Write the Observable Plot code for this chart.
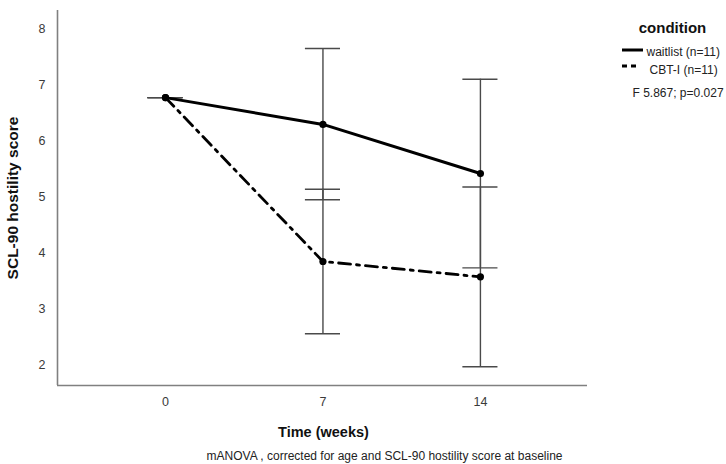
<!DOCTYPE html>
<html>
<head>
<meta charset="utf-8">
<script src="https://cdn.jsdelivr.net/npm/d3@7"></script>
<script src="https://cdn.jsdelivr.net/npm/@observablehq/plot@0.6"></script>
<style>
  html, body { margin: 0; padding: 0; background: #fff; }
  #chart svg { display: block; }
</style>
</head>
<body>
<div id="chart"></div>
<script>
// ---- data ----
const times = [0, 7, 14];
const conditions = ["waitlist (n=11)", "CBT-I (n=11)"];
const waitlistMean = [6.78, 6.30, 5.42];
const waitlistLow  = [6.78, 4.95, 3.73];
const waitlistHigh = [6.78, 7.66, 7.11];
const cbtMean = [6.78, 3.845, 3.57];
const cbtLow  = [6.78, 2.55, 1.96];
const cbtHigh = [6.78, 5.14, 5.18];
const yTicks = [2, 3, 4, 5, 6, 7, 8];
const xTicks = [0, 7, 14];
const xLabel = "Time (weeks)";
const yLabel = "SCL-90 hostility score";
const legendTitle = "condition";
const statText = "F 5.867; p=0.027";
const caption = "mANOVA , corrected for age and SCL-90 hostility score at baseline";

// ---- table ----
const rows = [];
times.forEach((t, i) => {
  rows.push({t, cond: conditions[0], m: waitlistMean[i], lo: waitlistLow[i], hi: waitlistHigh[i]});
});
times.forEach((t, i) => {
  rows.push({t, cond: conditions[1], m: cbtMean[i], lo: cbtLow[i], hi: cbtHigh[i]});
});
const wl = rows.filter(d => d.cond === conditions[0]);
const cb = rows.filter(d => d.cond === conditions[1]);

const xDomain = [-4.8, 18.76];
const yDomain = [1.624, 8.34];
const capHalf = 0.78;
const font = "'Liberation Sans', Arial, Helvetica, sans-serif";
const errColor = "#4a4a4a";
const fmt = d => String(d);

const chart = Plot.plot({
  width: 726,
  height: 464,
  marginLeft: 57,
  marginRight: 139,
  marginTop: 10,
  marginBottom: 79,
  style: {fontFamily: font, fontSize: "12px", color: "#333", background: "#fff"},
  x: {domain: xDomain, label: null},
  y: {domain: yDomain, label: null},
  marks: [
    Plot.axisX({ticks: xTicks, tickFormat: fmt, tickSize: 0, tickPadding: 12, fill: "#3a3a3a", fontSize: 12.5, label: null}),
    Plot.axisY({ticks: yTicks, tickFormat: fmt, tickSize: 0, tickPadding: 12, fill: "#3a3a3a", fontSize: 12.5, label: null}),
    // error bars
    Plot.ruleX(rows, {x: "t", y1: "lo", y2: "hi", stroke: errColor, strokeWidth: 1.4}),
    Plot.ruleY(rows, {y: "hi", x1: d => d.t - capHalf, x2: d => d.t + capHalf, stroke: errColor, strokeWidth: 1.4}),
    Plot.ruleY(rows, {y: "lo", x1: d => d.t - capHalf, x2: d => d.t + capHalf, stroke: errColor, strokeWidth: 1.4}),
    // lines
    Plot.line(wl, {x: "t", y: "m", stroke: "#000", strokeWidth: 3}),
    Plot.line(cb, {x: "t", y: "m", stroke: "#000", strokeWidth: 2.8, strokeDasharray: "12,6,3,6"}),
    Plot.dot(rows, {x: "t", y: "m", r: 3.6, fill: "#000", stroke: "none"}),
    // axis lines
    Plot.ruleX([xDomain[0]], {stroke: "#808080", strokeWidth: 1.6}),
    Plot.ruleY([yDomain[0]], {stroke: "#808080", strokeWidth: 1.6}),
    // titles
    Plot.text([yLabel], {text: d => d, frameAnchor: "left", dx: -44, rotate: -90, fontSize: 15.5, fontWeight: "bold", fill: "#111", textAnchor: "middle", lineAnchor: "middle"}),
    Plot.text([xLabel], {text: d => d, frameAnchor: "bottom", dx: 1, dy: 47, fontSize: 14.5, fontWeight: "bold", fill: "#111", textAnchor: "middle", lineAnchor: "middle"}),
    Plot.text([caption], {text: d => d, frameAnchor: "bottom", dx: 62, dy: 71, fontSize: 12, fill: "#222", textAnchor: "middle", lineAnchor: "middle"}),
    // legend
    Plot.text([legendTitle], {text: d => d, frameAnchor: "top-right", dx: 85, dy: 18, fontSize: 15, fontWeight: "bold", fill: "#111", textAnchor: "middle", lineAnchor: "middle"}),
    Plot.text([conditions[0]], {text: d => d, frameAnchor: "top-right", dx: 59, dy: 42, fontSize: 12, fill: "#222", textAnchor: "start", lineAnchor: "middle"}),
    Plot.text([conditions[1]], {text: d => d, frameAnchor: "top-right", dx: 62, dy: 60, fontSize: 12, fill: "#222", textAnchor: "start", lineAnchor: "middle"}),
    Plot.text([statText], {text: d => d, frameAnchor: "top-right", dx: 45, dy: 83, fontSize: 12, fill: "#222", textAnchor: "start", lineAnchor: "middle"})
  ]
});

// legend swatches (decoration, positioned relative to the frame's right edge)
const svg = d3.select(chart);
const fr = 726 - 139;
const g = svg.append("g");
g.append("line").attr("x1", fr + 35).attr("x2", fr + 56).attr("y1", 50).attr("y2", 50)
  .attr("stroke", "#000").attr("stroke-width", 3);
g.append("line").attr("x1", fr + 35).attr("x2", fr + 49).attr("y1", 66).attr("y2", 66)
  .attr("stroke", "#000").attr("stroke-width", 3).attr("stroke-dasharray", "5,4");

document.getElementById("chart").append(chart);
</script>
</body>
</html>
